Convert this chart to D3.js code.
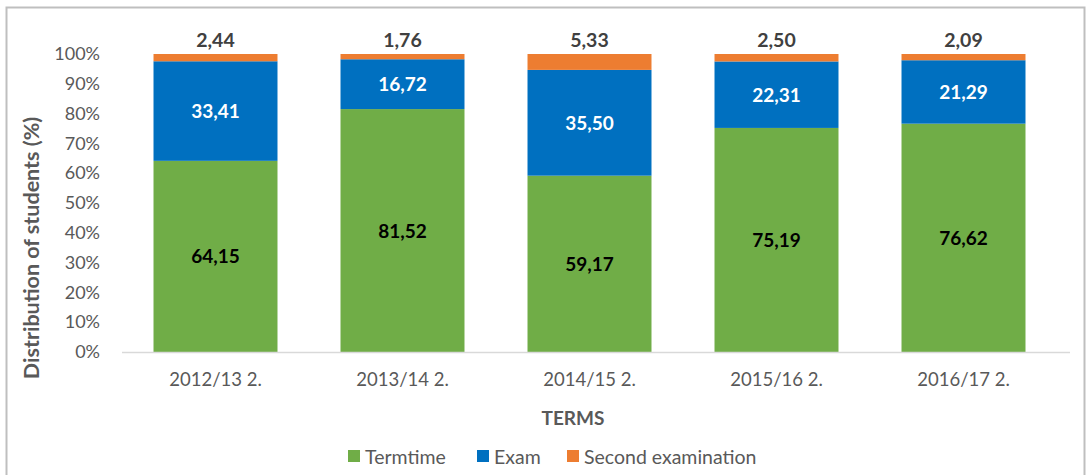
<!DOCTYPE html>
<html><head><meta charset="utf-8">
<script src="https://cdn.jsdelivr.net/npm/d3@7"></script>
<style>body{margin:0;background:#fff;}svg{display:block;font-family:Lato,"Open Sans",sans-serif;}</style>
</head><body>
<svg id="c" width="1089" height="475"></svg>
<script>
const categories = ["2012/13 2.", "2013/14 2.", "2014/15 2.", "2015/16 2.", "2016/17 2."];
const termtime = [64.15, 81.52, 59.17, 75.19, 76.62];
const exam = [33.41, 16.72, 35.50, 22.31, 21.29];
const second = [2.44, 1.76, 5.33, 2.50, 2.09];
const seriesNames = ["Termtime", "Exam", "Second examination"];
const yTicks = [0,10,20,30,40,50,60,70,80,90,100];

(function(){
const svg = d3.select("#c");
svg.append("rect").attr("x",6.5).attr("y",7.5).attr("width",1078).attr("height",470)
  .attr("fill","#fff").attr("stroke","#bfbfbf").attr("stroke-width",2);

const colors = ["#70AD47","#0070C0","#ED7D31"];
const pLeft = 122, pRight = 1057, pTop = 54, pBottom = 352;
const x = d3.scaleBand().domain(categories).range([pLeft,pRight]).paddingInner(0.337).paddingOuter(0.1685);
const y = d3.scaleLinear().domain([0,100]).range([pBottom,pTop]);

const data = categories.map((c,i)=>({cat:c, Termtime:termtime[i], Exam:exam[i], "Second examination":second[i]}));
const stack = d3.stack().keys(seriesNames)(data);

const g = svg.append("g");
stack.forEach((s,si)=>{
  g.selectAll(null).data(s).enter().append("rect")
    .attr("x",d=>x(d.data.cat)).attr("width",x.bandwidth())
    .attr("y",d=>y(d[1])).attr("height",d=>y(d[0])-y(d[1]))
    .attr("fill",colors[si]);
});

const fmt = v => v.toFixed(2).replace(".",",");
const LFS = 19;
stack[0].forEach(d=>{
  g.append("text").attr("x",x(d.data.cat)+x.bandwidth()/2).attr("y",(y(d[0])+y(d[1]))/2+7)
   .attr("text-anchor","middle").attr("font-weight","bold").attr("font-size",LFS).attr("fill","#000").text(fmt(d[1]-d[0]));
});
stack[1].forEach(d=>{
  g.append("text").attr("x",x(d.data.cat)+x.bandwidth()/2).attr("y",(y(d[0])+y(d[1]))/2+7)
   .attr("text-anchor","middle").attr("font-weight","bold").attr("font-size",LFS).attr("fill","#fff").text(fmt(d[1]-d[0]));
});
stack[2].forEach(d=>{
  g.append("text").attr("x",x(d.data.cat)+x.bandwidth()/2).attr("y",y(d[1])-7)
   .attr("text-anchor","middle").attr("font-weight","bold").attr("font-size",LFS+0.5).attr("fill","#404040").text(fmt(d[1]-d[0]));
});

const ya = svg.append("g").attr("transform",`translate(${pLeft},0)`)
  .call(d3.axisLeft(y).tickValues(yTicks).tickFormat(d=>d+"%").tickSize(0).tickPadding(22));
ya.select(".domain").remove();
ya.selectAll("text").attr("font-size",18).attr("fill","#595959").attr("font-family","Lato,sans-serif");

const xa = svg.append("g").attr("transform",`translate(0,${pBottom})`)
  .call(d3.axisBottom(x).tickSize(0).tickPadding(21));
xa.select(".domain").attr("stroke","#d9d9d9").attr("stroke-width",1.5).attr("d",`M${pLeft},0.5H1070`);
xa.selectAll("text").attr("font-size",18.5).attr("fill","#595959").attr("font-family","Lato,sans-serif");

svg.append("text").attr("transform","translate(39,248) rotate(-90)").attr("text-anchor","middle")
  .attr("font-size",21.5).attr("font-weight","bold").attr("fill","#595959").text("Distribution of students (%)");
svg.append("text").attr("x",573).attr("y",425).attr("text-anchor","middle")
  .attr("font-size",19).attr("font-weight","bold").attr("fill","#595959").text("TERMS");

const legX = [348, 477, 567];
seriesNames.forEach((n,i)=>{
  svg.append("rect").attr("x",legX[i]).attr("y",450).attr("width",12).attr("height",12).attr("fill",colors[i]);
  svg.append("text").attr("x",legX[i]+17).attr("y",463.5).attr("font-size",19.5).attr("fill","#595959").text(n);
});
})();
</script>
</body></html>
